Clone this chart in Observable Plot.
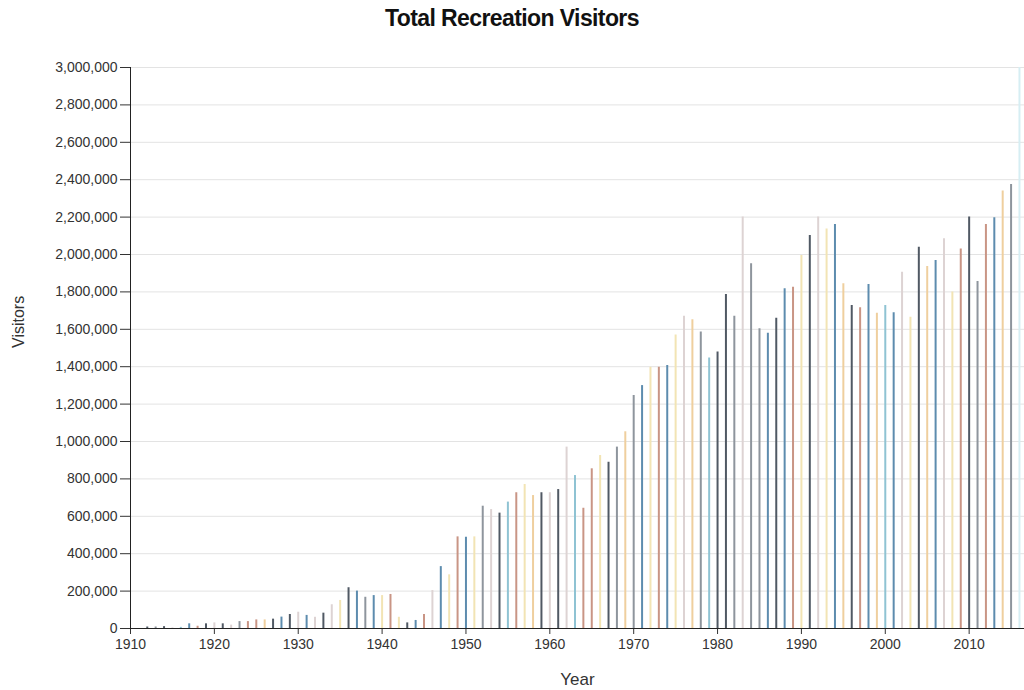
<!DOCTYPE html>
<html>
<head>
<meta charset="utf-8">
<script src="https://cdn.jsdelivr.net/npm/d3@7"></script>
<script src="https://cdn.jsdelivr.net/npm/@observablehq/plot@0.6"></script>
<style>
  body { margin: 0; background: #fff; }
  #title { font: bold 23px "Liberation Sans", Arial, sans-serif; height: 37px; line-height: 37px; text-align: center; color: #111; letter-spacing: -0.6px; }
</style>
</head>
<body>
<div id="title">Total Recreation Visitors</div>
<div id="chart"></div>
<script>
// Years (categories)
const years = d3.range(1912, 2017);

// Visitors per year
const visitors = [
  8000, 8000, 10000, 3000, 6000, 25000, 12000, 25000, 30000,            // 1912-1920
  25000, 18000, 37000, 37000, 46000, 46000, 50000, 61000, 75000, 87000, // 1921-1930
  70000, 60000, 82000, 127000, 150000, 218000, 200000, 167000, 176000, 176000, // 1931-1940
  182000, 60000, 30000, 43000, 75000, 203000, 331000, 287000, 490000, 488000,  // 1941-1950
  490000, 654000, 636000, 617000, 676000, 726000, 770000, 711000, 726000, 726000, // 1951-1960
  743000, 970000, 818000, 643000, 854000, 925000, 889000, 970000, 1052000, 1246000, // 1961-1970
  1299000, 1397000, 1397000, 1406000, 1570000, 1670000, 1651000, 1585000, 1446000, 1478000, // 1971-1980
  1786000, 1670000, 2200000, 1950000, 1603000, 1579000, 1659000, 1817000, 1825000, 1994000, // 1981-1990
  2102000, 2200000, 2137000, 2160000, 1843000, 1727000, 1715000, 1840000, 1686000, 1727000, // 1991-2000
  1688000, 1905000, 1665000, 2039000, 1936000, 1968000, 2084000, 1799000, 2030000, 2200000, // 2001-2010
  1856000, 2160000, 2196000, 2339000, 2374000, 3000000                                    // 2011-2016
];

// Colour group of each year's bar
const groups = (
  "k g k l t b s k l " +
  "k l g s s o k b k l " +
  "b l k l y k b g b y " +
  "s y k b s l b y s b " +
  "y g l k t s y o k l " +
  "k l t s s y k g o g " +
  "b y s b y l o g t k " +
  "k g l g g b k b s y " +
  "k l y b o k s b o t " +
  "b l y k o b l y s k " +
  "g s b o g c"
).trim().split(/\s+/);

const groupKeys = ["k", "g", "b", "t", "s", "y", "o", "l", "c"];
const groupColors = ["#505964", "#8e959d", "#5d8cae", "#8fc3d3", "#c99585", "#f2e4b4", "#efcf9e", "#ddd3d3", "#d6eef3"];

const yTicks = d3.range(0, 3000001, 200000);

const data = years.map((year, i) => ({ year, value: visitors[i], group: groups[i] }));

const chart = Plot.plot({
  width: 1024,
  height: 653,
  marginTop: 30,
  marginBottom: 62,
  marginLeft: 130,
  marginRight: 0,
  style: { fontFamily: "Liberation Sans, Arial, sans-serif", fontSize: "14px", color: "#333", background: "#fff" },
  x: { domain: [1910, 2016.6], ticks: 10, tickFormat: d3.format("d"), tickSize: 6, tickPadding: 5, label: null },
  y: { domain: [0, 3000000], ticks: 15, tickFormat: d3.format(","), tickSize: 10, tickPadding: 3, label: null },
  color: { domain: groupKeys, range: groupColors },
  marks: [
    Plot.ruleY(yTicks, { stroke: "#e3e3e3", strokeWidth: 1 }),
    Plot.ruleX(data, { x: "year", y1: 0, y2: "value", stroke: "group", strokeWidth: 2 }),
    Plot.ruleX([1910], { stroke: "#222" }),
    Plot.ruleY([0], { stroke: "#222" }),
    Plot.text(["Visitors"], { text: d => d, frameAnchor: "left", dx: -112, rotate: -90, fontSize: 16, fill: "#333" }),
    Plot.text(["Year"], { text: d => d, frameAnchor: "bottom", dy: 56, fontSize: 17, fill: "#333" })
  ]
});
document.getElementById("chart").appendChild(chart);
</script>
</body>
</html>
